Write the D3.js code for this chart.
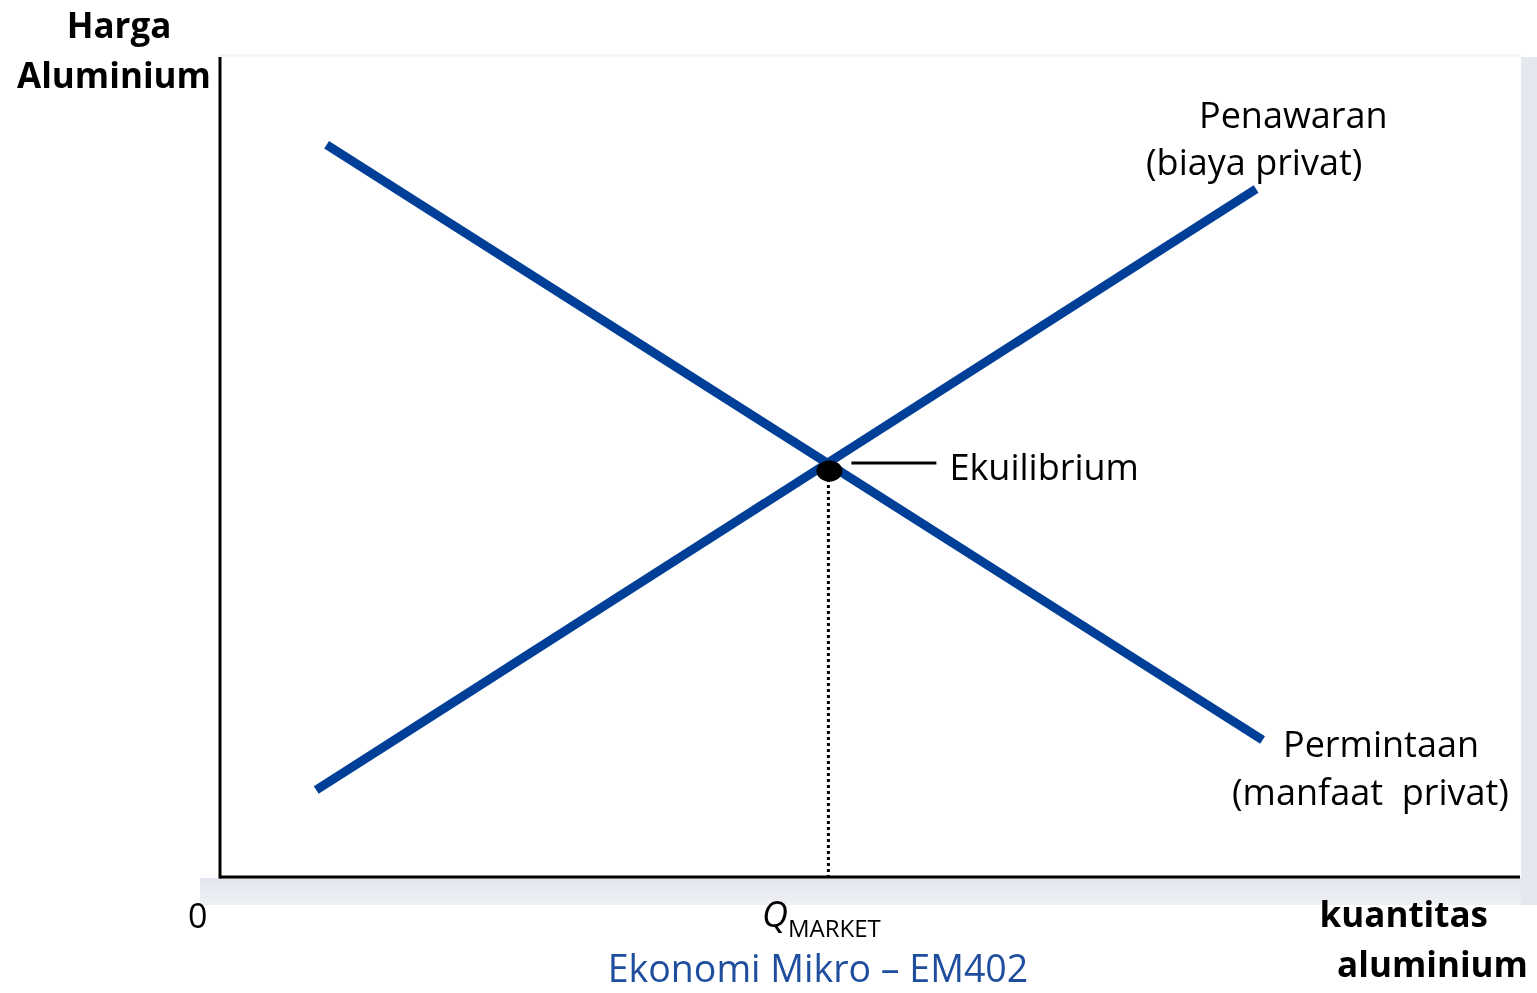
<!doctype html>
<html>
  <head>
    <meta charset="utf-8">
    <title>Pasar aluminium</title>
    <script src="https://cdn.jsdelivr.net/npm/d3@7"></script>
    <style>
      html, body { margin:0; padding:0; overflow:hidden; background:#fff }
      svg { position:fixed; top:0; left:0 }
      text { font-family: "Open Sans", sans-serif; fill:#000 }
    </style>
  </head>
  <body>
    <div></div>
    <script>
      // curve end points (quantity, price) on a 0..100 grid
      var supply = [[7.4, 10.6], [79.7, 83.9]];
      var demand = [[8.2, 89.3], [80.2, 16.7]];
      var equilibrium = [46.8, 50.0];

      var supplyLabel = ["Penawaran", "(biaya privat)"];
      var demandLabel = ["Permintaan", "(manfaat\u00a0 privat)"];
      var yTitle = ["Harga", "Aluminium"];
      var xTitle = ["kuantitas", "aluminium"];
      var footer = "Ekonomi Mikro \u2013 EM402";

      var W = 1537, H = 993;
      var svg = d3.select("div").append("svg")
        .attr("width", W).attr("height", H);

      var x = d3.scaleLinear().domain([0, 100]).range([220, 1520]);
      var y = d3.scaleLinear().domain([0, 100]).range([877, 57]);

      // panel shadow
      var grad = svg.append("defs").append("linearGradient")
        .attr("id", "sh").attr("x1", 0).attr("y1", 0).attr("x2", 0).attr("y2", 1);
      grad.append("stop").attr("offset", 0).attr("stop-color", "#e3e6ee");
      grad.append("stop").attr("offset", 1).attr("stop-color", "#eef0f5");
      svg.append("rect").attr("x", 200).attr("y", 878).attr("width", W - 200).attr("height", 27)
        .attr("fill", "url(#sh)");
      svg.append("rect").attr("x", 1521).attr("y", 57).attr("width", 16).attr("height", 848)
        .attr("fill", "#e6e8f0");
      svg.append("line").attr("x1", 218).attr("x2", 1521).attr("y1", 55.5).attr("y2", 55.5)
        .attr("stroke", "#f1f2f6").attr("stroke-width", 2);

      // axes
      svg.append("line").attr("x1", x(0)).attr("x2", x(0)).attr("y1", y(100)).attr("y2", y(0) + 1.5)
        .attr("stroke", "#000").attr("stroke-width", 3);
      svg.append("line").attr("x1", x(0)).attr("x2", x(100)).attr("y1", y(0)).attr("y2", y(0))
        .attr("stroke", "#000").attr("stroke-width", 3);

      // dotted drop line
      svg.append("line").attr("x1", x(equilibrium[0])).attr("x2", x(equilibrium[0]))
        .attr("y1", y(equilibrium[1]) + 12).attr("y2", y(0))
        .attr("stroke", "#000").attr("stroke-width", 3).attr("stroke-dasharray", "3,3");

      var line = d3.line().x(function(d) { return x(d[0]); }).y(function(d) { return y(d[1]); });
      [supply, demand].forEach(function(s) {
        svg.append("path").attr("d", line(s))
          .attr("fill", "none").attr("stroke", "#003f98").attr("stroke-width", 9);
      });

      svg.append("ellipse").attr("cx", x(equilibrium[0]) + 1).attr("cy", y(equilibrium[1]) + 4)
        .attr("rx", 13).attr("ry", 10.5).attr("fill", "#000");
      svg.append("line").attr("x1", x(equilibrium[0]) + 23).attr("x2", x(equilibrium[0]) + 108)
        .attr("y1", y(equilibrium[1]) - 4).attr("y2", y(equilibrium[1]) - 4)
        .attr("stroke", "#000").attr("stroke-width", 3);
      svg.append("text").attr("x", x(equilibrium[0]) + 121).attr("y", y(equilibrium[1]) + 13)
        .attr("font-size", 36).text("Ekuilibrium");

      // curve labels
      svg.append("text").attr("x", 1199).attr("y", 128).attr("font-size", 36).text(supplyLabel[0]);
      svg.append("text").attr("x", 1146).attr("y", 175).attr("font-size", 36).text(supplyLabel[1]);
      svg.append("text").attr("x", 1283).attr("y", 757).attr("font-size", 36).text(demandLabel[0]);
      svg.append("text").attr("x", 1232).attr("y", 805).attr("font-size", 36).text(demandLabel[1]);

      // axis titles
      svg.append("text").attr("x", 119).attr("y", 38).attr("text-anchor", "middle")
        .attr("font-size", 35).attr("font-weight", "bold").text(yTitle[0]);
      svg.append("text").attr("x", 17).attr("y", 88)
        .attr("font-size", 35).attr("font-weight", "bold").text(yTitle[1]);
      svg.append("text").attr("x", 1488).attr("y", 927).attr("text-anchor", "end")
        .attr("font-size", 35).attr("font-weight", "bold").text(xTitle[0]);
      svg.append("text").attr("x", 1528).attr("y", 977).attr("text-anchor", "end")
        .attr("font-size", 35).attr("font-weight", "bold").text(xTitle[1]);

      svg.append("text").attr("x", 188).attr("y", 928).attr("font-size", 34).text("0");

      var q = svg.append("text").attr("x", 762).attr("y", 927).attr("font-size", 36);
      q.append("tspan").attr("font-style", "italic").text("Q");
      q.append("tspan").attr("font-size", 24).attr("dy", 10).text("MARKET");

      svg.append("text").attr("x", 818).attr("y", 982).attr("text-anchor", "middle")
        .attr("font-size", 37.5).style("fill", "#1f4e9e").text(footer);
    </script>
  </body>
</html>
